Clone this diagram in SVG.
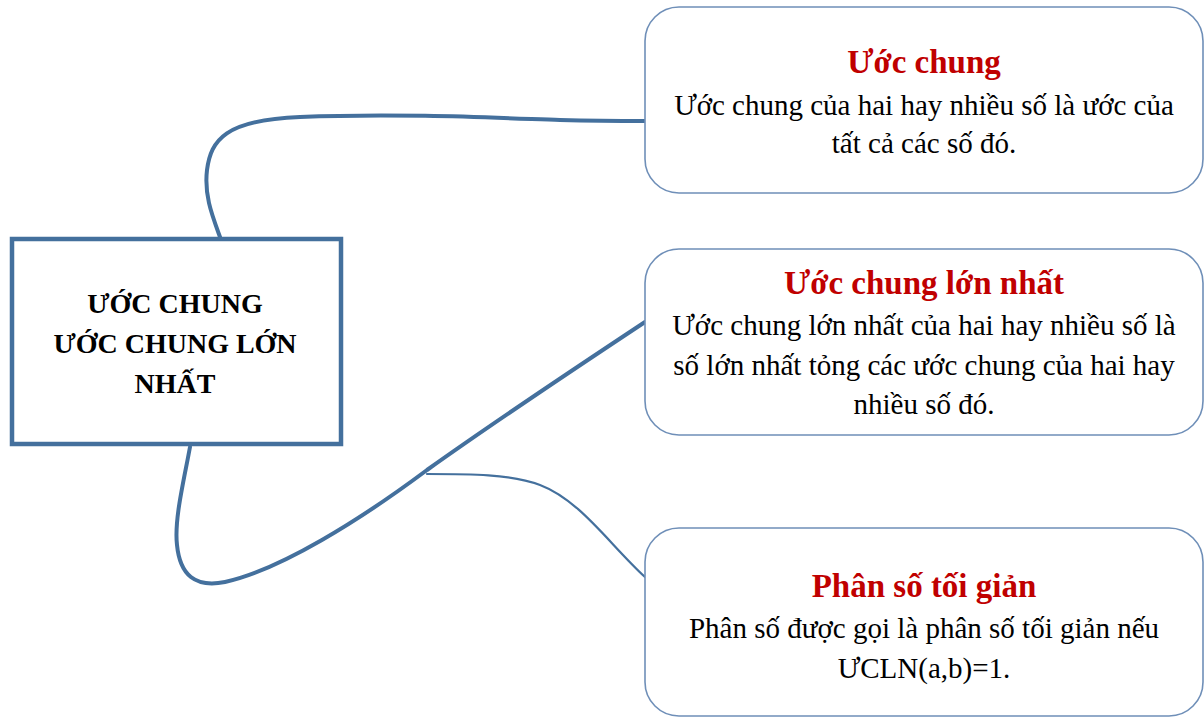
<svg xmlns="http://www.w3.org/2000/svg" width="1204" height="719" viewBox="0 0 1204 719">
<style>
.bg{fill:#ffffff}
.conn{fill:none;stroke:#44709D;stroke-linecap:round}
.card{fill:#ffffff;stroke:#6F8FB8;stroke-width:1.6}
.main{fill:#ffffff;stroke:#44709D;stroke-width:4.5}
.t{font-family:"Liberation Serif","Times New Roman",serif;text-anchor:middle;fill:#000000}
.h{font-weight:bold;fill:#C00000;font-size:33px}
.b{font-size:29px}
.m{font-weight:bold;font-size:28px}
</style>
<rect class="bg" x="0" y="0" width="1204" height="719"/>
<g id="connectors">
<path class="conn" stroke-width="4" d="M220,237 C212,215 204,195 207,170 C211,140 225,120 300,117 C400,113 500,118 560,120 C600,121 620,121 645,121"/>
<path class="conn" stroke-width="4" d="M190,447 C184,480 174,520 177,545 C180,575 195,588 225,582 C280,570 360,520 427,470 C500,418 580,365 645,322"/>
<path class="conn" stroke-width="2.2" d="M427,474 C470,474 510,474 540,485 C580,500 610,545 645,577"/>
</g>
<g id="node-main">
<rect class="main" x="12" y="239" width="329" height="205"/>
<text class="t m" x="175" y="313">ƯỚC CHUNG</text>
<text class="t m" x="175" y="353">ƯỚC CHUNG LỚN</text>
<text class="t m" x="175" y="393">NHẤT</text>
</g>
<g id="node-uc">
<rect class="card" x="645" y="7" width="558" height="186" rx="34"/>
<text class="t h" x="924" y="73">Ước chung</text>
<text class="t b" x="924" y="115">Ước chung của hai hay nhiều số là ước của</text>
<text class="t b" x="924" y="153">tất cả các số đó.</text>
</g>
<g id="node-ucln">
<rect class="card" x="645" y="249" width="558" height="186" rx="34"/>
<text class="t h" x="924" y="294">Ước chung lớn nhất</text>
<text class="t b" x="924" y="335">Ước chung lớn nhất của hai hay nhiều số là</text>
<text class="t b" x="924" y="375">số lớn nhất tỏng các ước chung của hai hay</text>
<text class="t b" x="924" y="414">nhiều số đó.</text>
</g>
<g id="node-psg">
<rect class="card" x="645" y="528" width="558" height="188" rx="34"/>
<text class="t h" x="924" y="597">Phân số tối giản</text>
<text class="t b" x="924" y="638">Phân số được gọi là phân số tối giản nếu</text>
<text class="t b" x="924" y="678">ƯCLN(a,b)=1.</text>
</g>
</svg>
